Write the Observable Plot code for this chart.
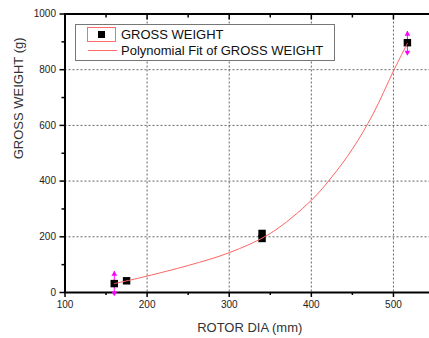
<!DOCTYPE html>
<html>
<head>
<meta charset="utf-8">
<script src="https://cdn.jsdelivr.net/npm/d3@7"></script>
<script src="https://cdn.jsdelivr.net/npm/@observablehq/plot@0.6"></script>
<style>
  body { margin: 0; overflow: hidden; background: #fff; font-family: Arial, "Liberation Sans", sans-serif; }
  #wrap { position: relative; width: 429px; height: 338px; overflow: hidden; }
  #wrap svg { position: absolute; left: 0; top: 0; max-width: none !important; height: 338px !important; }
  .legend { position: absolute; left: 75px; top: 24px; width: 258px; height: 35px; border: 1px solid #777; background: #fff; font-size: 13px; color: #111; }
  .legend .sym { position: absolute; left: 11px; top: 2px; width: 27px; height: 13px; border: 1px solid #ff6a6a; }
  .legend .sym i { position: absolute; left: 10px; top: 3px; width: 7px; height: 7px; background: #000; }
  .legend .line { position: absolute; left: 12px; top: 24.5px; width: 29px; height: 1px; background: #ff6a6a; }
  .legend span { position: absolute; left: 45px; line-height: 15px; white-space: nowrap; }
</style>
</head>
<body>
<div id="wrap"></div>
<script>
// Measured rotor diameter (mm) and gross weight (g)
const rotorDia = [160, 175, 340, 340, 517];
const grossWeight = [32, 42, 194, 212, 897];

// Points that carry up/down range arrows, with their half-range (g)
const rangeDia = [160, 517];
const rangeWeight = [32, 895];
const rangeHalf = [43, 42];

// Polynomial fit curve, sampled along the diameter axis
const fitDia = [160, 180, 200, 250, 300, 350, 400, 425, 450, 475, 500, 517];
const fitWeight = [32, 45, 59, 97, 143, 212, 331, 415, 515, 640, 795, 895];

// Axis ticks
const xMajor = [100, 200, 300, 400, 500];
const xMinor = [150, 250, 350, 450];
const yMajor = [0, 200, 400, 600, 800, 1000];
const yMinor = [100, 300, 500, 700, 900];
const xGrid = [200, 300, 400, 500];
const yGrid = [200, 400, 600, 800];

const points = rotorDia.map((d, i) => ({dia: d, weight: grossWeight[i]}));
const ranges = rangeDia.map((d, i) => ({dia: d, lo: rangeWeight[i] - rangeHalf[i], hi: rangeWeight[i] + rangeHalf[i]}));
const fit = fitDia.map((d, i) => ({dia: d, weight: fitWeight[i]}));

const blank = () => "";
const plain = (d) => String(d);
const tickColor = "#000";

const chart = Plot.plot({
  width: 436,
  height: 338,
  marginLeft: 64.5,
  marginRight: 2,
  marginTop: 13.5,
  marginBottom: 46,
  style: {fontFamily: "Arial, 'Liberation Sans', sans-serif", background: "transparent"},
  x: {domain: [100, 550]},
  y: {domain: [0, 1000]},
  marks: [
    Plot.gridX(xGrid, {stroke: "#666", strokeOpacity: 1, strokeDasharray: "2,2"}),
    Plot.gridY(yGrid, {stroke: "#666", strokeOpacity: 1, strokeDasharray: "2,2"}),
    // bottom axis
    Plot.axisX(xMajor, {tickSize: 5, tickPadding: 3, tickFormat: plain, fontSize: 10, fill: "#222", stroke: tickColor, strokeWidth: 1.5, label: null}),
    Plot.axisX(xMinor, {tickSize: 3, tickFormat: blank, stroke: tickColor, strokeWidth: 1.5, label: null}),
    // top axis, ticks pointing inward
    Plot.axisX(xMajor, {anchor: "top", tickSize: -5, tickFormat: blank, stroke: tickColor, strokeWidth: 1.5, label: null}),
    Plot.axisX(xMinor, {anchor: "top", tickSize: -3, tickFormat: blank, stroke: tickColor, strokeWidth: 1.5, label: null}),
    // left axis
    Plot.axisY(yMajor, {tickSize: 5, tickPadding: 4, tickFormat: plain, fontSize: 10, fill: "#222", stroke: tickColor, strokeWidth: 1.5, label: null}),
    Plot.axisY(yMinor, {tickSize: 3, tickFormat: blank, stroke: tickColor, strokeWidth: 1.5, label: null}),
    Plot.frame({stroke: "#000", strokeWidth: 2}),
    // range arrows
    Plot.ruleX(ranges, {x: "dia", y1: "lo", y2: "hi", stroke: "#ff00ff", strokeWidth: 1}),
    Plot.dot(ranges, {x: "dia", y: "hi", symbol: "triangle", r: 2.1, fill: "#ff00ff", dy: 2.5}),
    Plot.dot(ranges, {x: "dia", y: "lo", symbol: "triangle", r: 2.1, fill: "#ff00ff", rotate: 180, dy: -2.5}),
    // measured points
    Plot.dot(points, {x: "dia", y: "weight", symbol: "square", r: 4.2, fill: "#000"}),
    // fit curve
    Plot.line(fit, {x: "dia", y: "weight", curve: "catmull-rom", stroke: "#ff6464", strokeWidth: 1}),
    // axis titles
    Plot.text(["ROTOR DIA (mm)"], {frameAnchor: "bottom", dy: 39, fontSize: 13, fill: "#333", lineAnchor: "bottom"}),
    Plot.text(["GROSS WEIGHT (g)"], {frameAnchor: "left", rotate: -90, dx: -46.5, dy: 6, fontSize: 13, fill: "#333", lineAnchor: "middle"})
  ]
});

const wrap = document.getElementById("wrap");
wrap.appendChild(chart);

const legend = document.createElement("div");
legend.className = "legend";
legend.innerHTML =
  '<div class="sym"><i></i></div><span style="top:1.5px">GROSS WEIGHT</span>' +
  '<div class="line"></div><span style="top:18px">Polynomial Fit of GROSS WEIGHT</span>';
wrap.appendChild(legend);
</script>
</body>
</html>
